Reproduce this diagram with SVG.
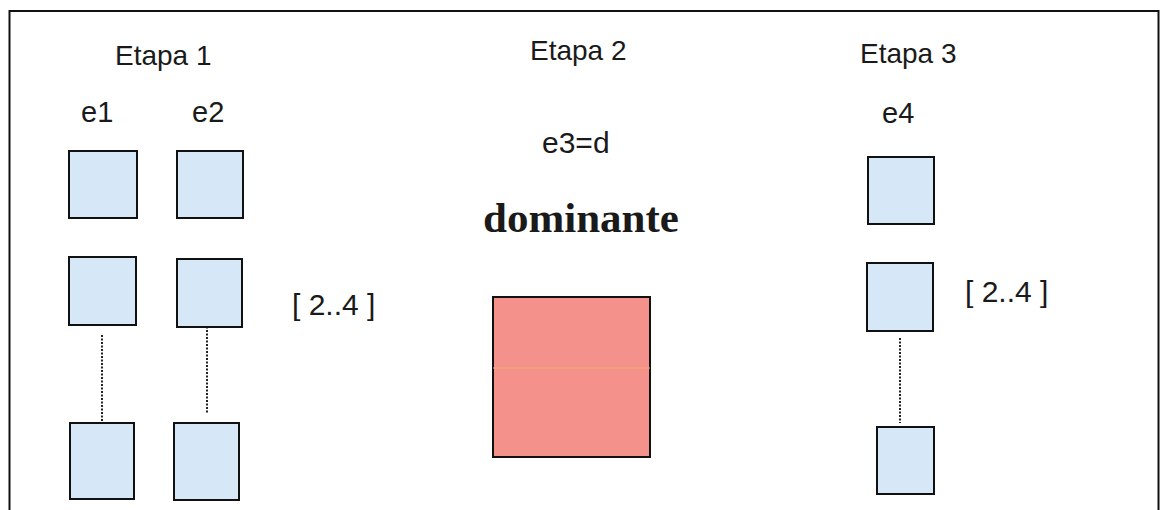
<svg xmlns="http://www.w3.org/2000/svg" width="1164" height="510" viewBox="0 0 1164 510">
<style>
.lbl{font-family:"Liberation Sans",Arial,sans-serif;fill:#1a1a1a}
.box{fill:#D6E8F8;stroke:#111;stroke-width:2}
.dot{stroke:#222;stroke-width:2;stroke-dasharray:2 1.5;fill:none}
</style>
<rect width="1164" height="510" fill="#fff"/>
<path d="M9.5,515 V11 H1158.5 V515" fill="none" stroke="#111" stroke-width="2"/>
<text class="lbl" x="115" y="65" font-size="28">Etapa 1</text>
<text class="lbl" x="530" y="60" font-size="28">Etapa 2</text>
<text class="lbl" x="860" y="63" font-size="28">Etapa 3</text>
<text class="lbl" x="81" y="122" font-size="29">e1</text>
<text class="lbl" x="192" y="122" font-size="29">e2</text>
<text class="lbl" x="882" y="123" font-size="29">e4</text>
<text class="lbl" x="542" y="153" font-size="30">e3=d</text>
<text x="483" y="232" font-size="43" font-weight="bold" font-family="'Liberation Serif','Times New Roman',serif" fill="#1a1a1a">dominante</text>
<text class="lbl" x="292" y="315" font-size="30">[ 2..4 ]</text>
<text class="lbl" x="965" y="302" font-size="30">[ 2..4 ]</text>
<g id="connectors">
<line class="dot" x1="102" y1="335" x2="102" y2="422"/>
<line class="dot" x1="207" y1="323" x2="207" y2="413"/>
<line class="dot" x1="900" y1="338" x2="900" y2="423"/>
</g>
<g id="e1-1"><rect class="box" x="69" y="151" width="68" height="67"/></g>
<g id="e2-1"><rect class="box" x="177" y="151" width="66" height="67"/></g>
<g id="e1-2"><rect class="box" x="69" y="257" width="67" height="68"/></g>
<g id="e2-2"><rect class="box" x="177" y="259" width="65" height="68"/></g>
<g id="e1-3"><rect class="box" x="70" y="423" width="64" height="76"/></g>
<g id="e2-3"><rect class="box" x="174" y="423" width="65" height="77"/></g>
<g id="e4-1"><rect class="box" x="868" y="157" width="66" height="67"/></g>
<g id="e4-2"><rect class="box" x="867" y="263" width="66" height="68"/></g>
<g id="e4-3"><rect class="box" x="877" y="427" width="57" height="67"/></g>
<g id="dominante">
<rect x="493" y="297" width="157" height="160" fill="#F4918B" stroke="#111" stroke-width="2"/>
<line x1="493" y1="368" x2="650" y2="368" stroke="#F5AE70" stroke-width="1"/>
</g>
</svg>
